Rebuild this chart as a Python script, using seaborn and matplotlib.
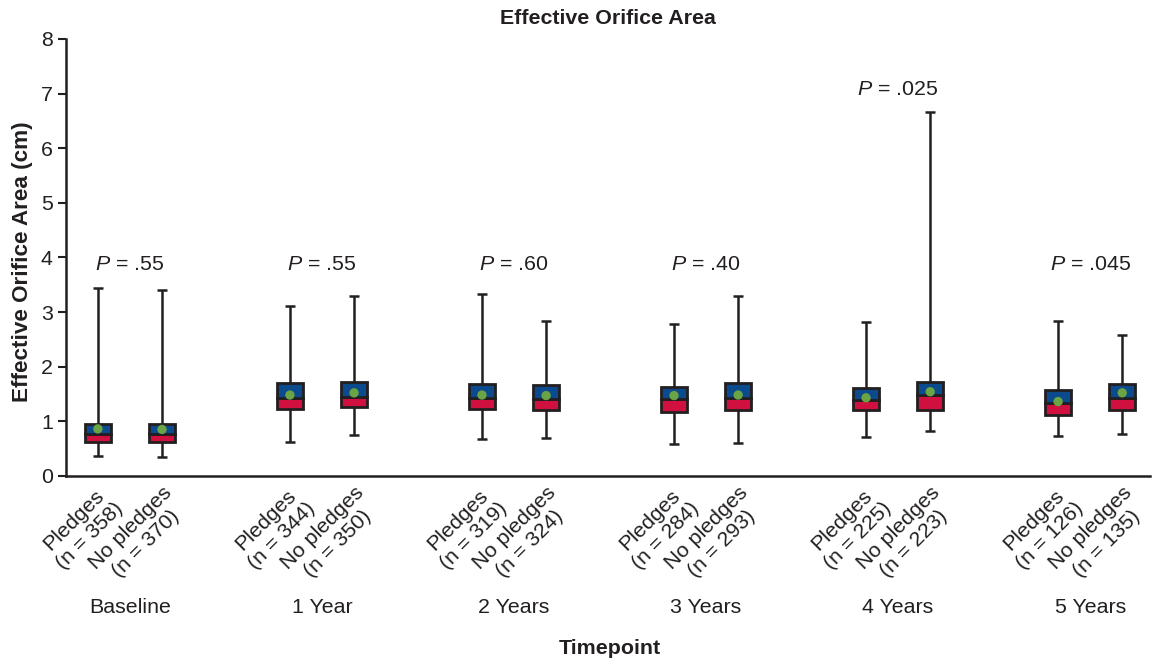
import seaborn as sns
import matplotlib.pyplot as plt
import pandas as pd
import numpy as np

# Data
timepoints = ["Baseline", "1 Year", "2 Years", "3 Years", "4 Years", "5 Years"]
groups = ["Pledges", "No pledges"]
n_counts = [358, 370, 344, 350, 319, 324, 284, 293, 225, 223, 126, 135]
whisk_lo = [0.37, 0.35, 0.62, 0.75, 0.68, 0.70, 0.58, 0.60, 0.71, 0.82, 0.73, 0.77]
q1 = [0.62, 0.62, 1.23, 1.26, 1.23, 1.21, 1.17, 1.21, 1.21, 1.21, 1.12, 1.21]
median = [0.77, 0.77, 1.43, 1.45, 1.43, 1.41, 1.41, 1.43, 1.39, 1.48, 1.34, 1.43]
q3 = [0.95, 0.95, 1.70, 1.72, 1.68, 1.67, 1.63, 1.70, 1.61, 1.72, 1.58, 1.68]
whisk_hi = [3.44, 3.41, 3.11, 3.30, 3.33, 2.84, 2.78, 3.30, 2.82, 6.67, 2.84, 2.58]
means = [0.86, 0.85, 1.48, 1.52, 1.48, 1.47, 1.47, 1.48, 1.43, 1.54, 1.36, 1.52]
p_values = [".55", ".55", ".60", ".40", ".025", ".045"]
p_heights = [3.87, 3.87, 3.87, 3.87, 7.07, 3.87]

BLUE = "#0b4a8c"
RED = "#d0103e"
GREEN = "#6aa444"
INK = "#231f20"
FS = 15.4

df = pd.DataFrame({
    "timepoint": np.repeat(timepoints, 2),
    "group": groups * 6,
    "n": n_counts, "lo": whisk_lo, "q1": q1, "med": median,
    "q3": q3, "hi": whisk_hi, "mean": means,
})
offset = 0.167
df["x"] = np.repeat(np.arange(len(timepoints)), 2) + np.tile([-offset, offset], 6)

sns.set_theme(style="ticks")
plt.rcParams["font.family"] = ["Liberation Sans", "DejaVu Sans"]
plt.rcParams["mathtext.fontset"] = "custom"
plt.rcParams["mathtext.it"] = "Liberation Sans:italic"
plt.rcParams["mathtext.rm"] = "Liberation Sans"
plt.rcParams["text.color"] = INK
plt.rcParams["axes.labelcolor"] = INK
plt.rcParams["xtick.color"] = INK
plt.rcParams["ytick.color"] = INK

fig = plt.figure(figsize=(11.52, 6.6), dpi=100)
ax = fig.add_axes([0.0573, 0.279, 0.9407, 0.662])

w = 0.135
# whiskers and caps
ax.vlines(df["x"], df["lo"], df["q1"], color=INK, lw=1.8, zorder=1)
ax.vlines(df["x"], df["q3"], df["hi"], color=INK, lw=1.8, zorder=1)
ax.hlines(df["lo"], df["x"] - 0.025, df["x"] + 0.025, color=INK, lw=1.8)
ax.hlines(df["hi"], df["x"] - 0.025, df["x"] + 0.025, color=INK, lw=1.8)
# boxes: red lower half, blue upper half
ax.bar(df["x"], df["med"] - df["q1"], bottom=df["q1"], width=w, color=RED,
       edgecolor=INK, linewidth=2, zorder=2)
ax.bar(df["x"], df["q3"] - df["med"], bottom=df["med"], width=w, color=BLUE,
       edgecolor=INK, linewidth=2, zorder=2)
# means
sns.scatterplot(data=df, x="x", y="mean", color=GREEN, s=45, edgecolor="none",
                zorder=3, ax=ax, legend=False)

for i, (p, h) in enumerate(zip(p_values, p_heights)):
    ax.text(i, h, f"$\\it{{P}}$ = {p}", ha="center", va="center", fontsize=FS)

ax.set_xlim(-0.333, 5.31)
ax.set_ylim(0, 8)
ax.set_yticks(range(0, 9))
ax.set_xticks(df["x"])
ax.set_xticklabels([f"{g}\n(n = {n})" for g, n in zip(df["group"], df["n"])],
                   rotation=45, ha="right", va="top", rotation_mode="anchor",
                   multialignment="center", fontsize=FS, linespacing=1.2)
ax.tick_params(axis="x", length=0, pad=5)
ax.tick_params(axis="y", labelsize=FS, width=1.5, length=6)
for i, t in enumerate(timepoints):
    ax.text(i, -0.302, t, transform=ax.get_xaxis_transform(), ha="center",
            va="center", fontsize=FS)
ax.text(2.5, -0.394, "Timepoint", transform=ax.get_xaxis_transform(),
        ha="center", va="center", fontsize=FS, fontweight="bold")
ax.set_xlabel("")
ax.set_ylabel("Effective Orifice Area (cm)", fontsize=16.2, fontweight="bold")
ax.yaxis.set_label_coords(-0.030, 0.49)
ax.set_title("Effective Orifice Area", fontsize=FS, fontweight="bold", pad=11)
sns.despine(ax=ax)
for s in ["left", "bottom"]:
    ax.spines[s].set_linewidth(1.8)
    ax.spines[s].set_color(INK)

fig.savefig("out.png", dpi=100)
